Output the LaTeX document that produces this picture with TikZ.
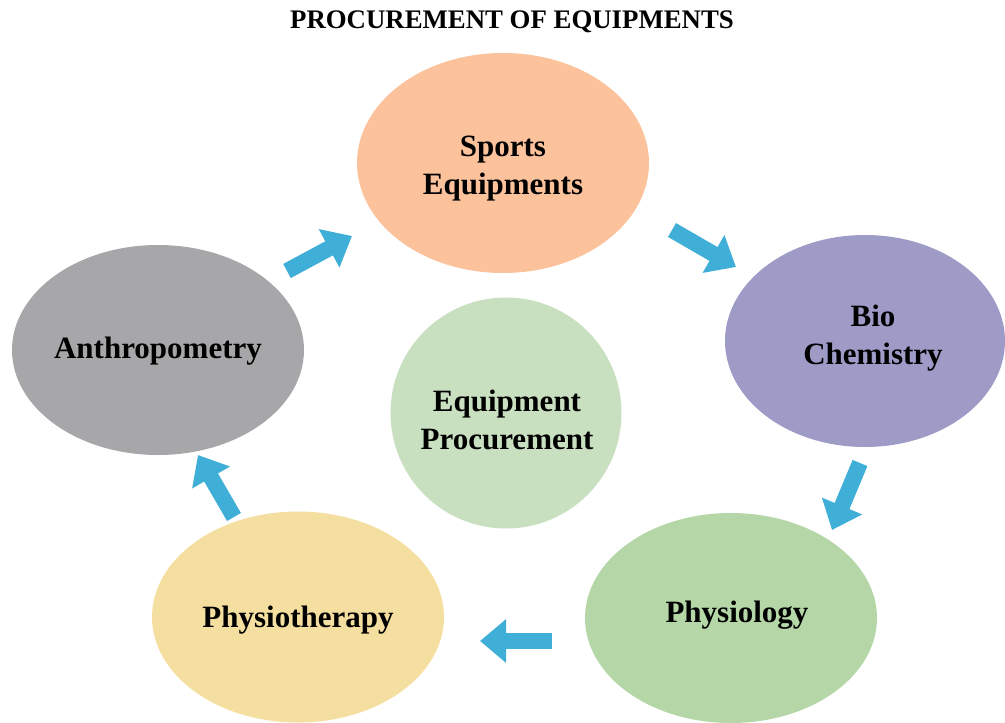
\documentclass[tikz,border=0pt]{standalone}
\usepackage{fontspec}
\setmainfont{Liberation Serif}
\usetikzlibrary{shapes.geometric,arrows.meta}
\definecolor{cpeach}{HTML}{FBC29B}
\definecolor{clav}{HTML}{9E9BC7}
\definecolor{cgreen}{HTML}{B5D7A8}
\definecolor{cyellow}{HTML}{F5DFA0}
\definecolor{cgray}{HTML}{A7A7A9}
\definecolor{clight}{HTML}{C8DFC0}
\definecolor{carrow}{HTML}{3FAFD7}
\tikzset{
  blob/.style={ellipse, draw=none, inner sep=0pt},
  lbl/.style={inner sep=0pt, align=center, font=\fontsize{31}{38}\selectfont\bfseries},
  arr/.style={draw=carrow, line width=16pt, -{Triangle[width=42pt,length=26pt]}},
}
\begin{document}
\begin{tikzpicture}[x=1pt,y=-1pt]
\useasboundingbox (0,0) rectangle (1005,723);
\node[font=\fontsize{26.8}{32}\selectfont\bfseries] (title) at (512,22) {PROCUREMENT OF EQUIPMENTS};
\node[blob, fill=cpeach, minimum width=292pt, minimum height=220pt] (sports) at (503,163) {};
\node[blob, fill=clav, minimum width=280pt, minimum height=212pt] (bio) at (865,341) {};
\node[blob, fill=cgreen, minimum width=292pt, minimum height=210pt] (physiol) at (731,618) {};
\node[blob, fill=cyellow, minimum width=292pt, minimum height=211pt] (physio) at (298,617) {};
\node[blob, fill=cgray, minimum width=292pt, minimum height=210pt] (anthro) at (158,350) {};
\node[circle, draw=none, inner sep=0pt, fill=clight, minimum size=231pt] (equip) at (506,413) {};
\node[lbl] (sportsT) at (503,169) {Sports\\Equipments};
\node[lbl] (bioT) at (873,338.5) {Bio\\Chemistry};
\node[lbl] (physiolT) at (737,615) {Physiology};
\node[lbl] (physioT) at (298,620) {Physiotherapy};
\node[lbl] (anthroT) at (158,351) {Anthropometry};
\node[lbl] (equipT) at (507,419.5) {Equipment\\Procurement};
\coordinate (a1s) at (287,271); \coordinate (a1e) at (352,236);
\coordinate (a2s) at (672,230); \coordinate (a2e) at (736,267);
\coordinate (a3s) at (860,463); \coordinate (a3e) at (832,530);
\coordinate (a4s) at (552,641); \coordinate (a4e) at (480,641);
\coordinate (a5s) at (234,517); \coordinate (a5e) at (198,455);
\draw[arr] (a1s) -- (a1e);
\draw[arr] (a2s) -- (a2e);
\draw[arr] (a3s) -- (a3e);
\draw[arr] (a4s) -- (a4e);
\draw[arr] (a5s) -- (a5e);
\end{tikzpicture}
\end{document}
